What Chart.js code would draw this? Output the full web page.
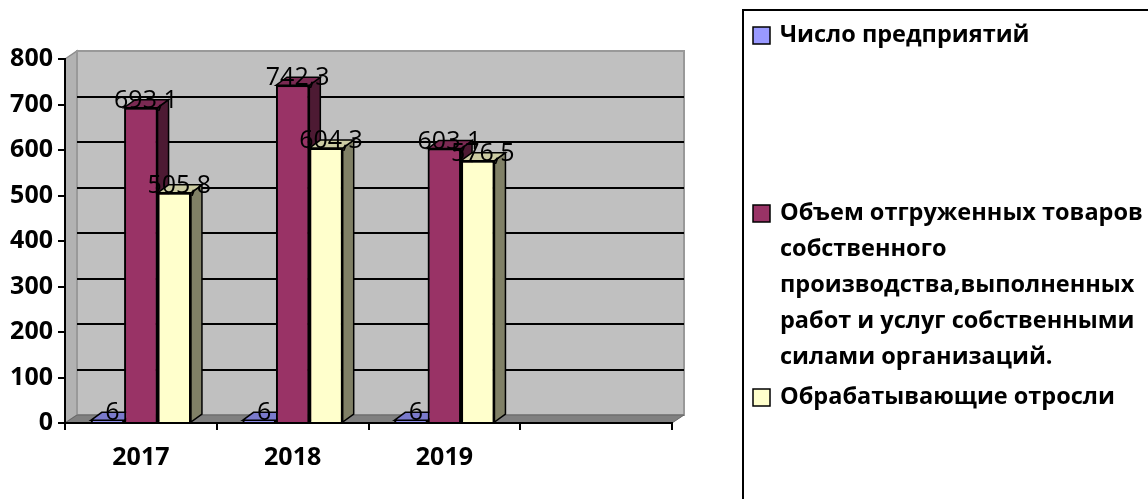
<!DOCTYPE html>
<html>
<head>
<meta charset="utf-8">
<script src="https://cdn.jsdelivr.net/npm/chart.js@4/dist/chart.umd.min.js"></script>
<style>
  html, body { margin: 0; padding: 0; background: #fff; }
  #wrap { width: 1148px; height: 499px; }
</style>
</head>
<body>
<div id="wrap"><canvas id="chart"></canvas></div>
<script>
// data
const years = ['2017', '2018', '2019', ''];
const enterprises = [6, 6, 6, null];
const shipped = [693.1, 742.3, 603.1, null];
const processing = [505.8, 604.3, 576.5, null];
const seriesLabels = [
  ['Число предприятий'],
  ['Объем отгруженных товаров', 'собственного', 'производства,выполненных', 'работ и услуг собственными', 'силами организаций.'],
  ['Обрабатывающие отросли']
];
const yMax = 800, yStep = 100;

const FONT = '"Open Sans", "Noto Sans", sans-serif';
const colors = ['#9999FF', '#993366', '#FFFFCC'];
const sideColors = ['#4d4d80', '#4d1a33', '#808066'];
const topColors = ['#7a7acc', '#7a2952', '#cccca3'];

// wall depth and bar depth
const DX = 12, DY = -8;
const BX = 11, BY = -8;

function poly(ctx, pts, fill, stroke, lw) {
  ctx.beginPath();
  ctx.moveTo(pts[0][0], pts[0][1]);
  for (let i = 1; i < pts.length; i++) ctx.lineTo(pts[i][0], pts[i][1]);
  ctx.closePath();
  if (fill) { ctx.fillStyle = fill; ctx.fill(); }
  if (stroke) { ctx.strokeStyle = stroke; ctx.lineWidth = lw || 1; ctx.stroke(); }
}

// back wall, side wall, floor and gridlines
const walls = {
  id: 'walls',
  beforeDraw(chart) {
    const { ctx, chartArea: a, scales: { y } } = chart;
    ctx.save();
    // side wall
    poly(ctx, [[a.left, a.top], [a.left + DX, a.top + DY], [a.left + DX, a.bottom + DY], [a.left, a.bottom]], '#b2b2b2', '#8c8c8c', 1.5);
    // back wall
    poly(ctx, [[a.left + DX, a.top + DY], [a.right + DX, a.top + DY], [a.right + DX, a.bottom + DY], [a.left + DX, a.bottom + DY]], '#c0c0c0', '#999999', 2);
    // floor
    poly(ctx, [[a.left, a.bottom], [a.left + DX, a.bottom + DY], [a.right + DX, a.bottom + DY], [a.right, a.bottom]], '#808080', '#666666', 1);
    // gridlines
    ctx.strokeStyle = '#000';
    ctx.lineWidth = 2;
    y.ticks.forEach(t => {
      if (t.value <= y.min || t.value >= y.max) return;
      const py = Math.round(y.getPixelForValue(t.value) + DY);
      ctx.beginPath();
      ctx.moveTo(a.left + DX, py);
      ctx.lineTo(a.right + DX, py);
      ctx.stroke();
    });
    ctx.restore();
  }
};

// bar depth faces, then value labels
const bars3d = {
  id: 'bars3d',
  afterDatasetsDraw(chart) {
    const ctx = chart.ctx;
    const metas = chart.data.datasets.map((d, i) => chart.getDatasetMeta(i));
    ctx.save();
    for (let j = 0; j < years.length; j++) {
      metas.forEach((meta, i) => {
        const bar = meta.data[j];
        if (!bar || chart.data.datasets[i].data[j] == null) return;
        const { x, y, base, width } = bar.getProps(['x', 'y', 'base', 'width'], true);
        const l = x - width / 2, r = x + width / 2;
        poly(ctx, [[r, y], [r + BX, y + BY], [r + BX, base + BY], [r, base]], sideColors[i], '#000', 1.5);
        poly(ctx, [[l, y], [l + BX, y + BY], [r + BX, y + BY], [r, y]], topColors[i], '#000', 1.5);
        bar.draw(ctx);
      });
    }
    ctx.font = '25px ' + FONT;
    ctx.fillStyle = '#000';
    ctx.textAlign = 'center';
    ctx.textBaseline = 'middle';
    metas.forEach(meta => {
      meta.data.forEach((bar, j) => {
        const v = chart.data.datasets[meta.index].data[j];
        if (v == null) return;
        ctx.fillText(String(v).replace('.', ','), bar.x + 5, bar.y - 7);
      });
    });
    ctx.restore();
  }
};

// Excel-style legend box on the right
const sideLegend = {
  id: 'sideLegend',
  afterDraw(chart) {
    const ctx = chart.ctx;
    const rows = [35, 213, 397];
    ctx.save();
    ctx.strokeStyle = '#000';
    ctx.lineWidth = 2;
    ctx.strokeRect(743, 10, 430, 520);
    ctx.font = 'bold 23.5px ' + FONT;
    ctx.textAlign = 'left';
    ctx.textBaseline = 'middle';
    chart.data.datasets.forEach((ds, i) => {
      const y0 = rows[i];
      ctx.fillStyle = colors[i];
      ctx.fillRect(753, y0 - 8, 17, 17);
      ctx.lineWidth = 1.5;
      ctx.strokeRect(753, y0 - 8, 17, 17);
      ctx.fillStyle = '#000';
      seriesLabels[i].forEach((line, k) => ctx.fillText(line, 780, y0 + k * 36));
    });
    ctx.restore();
  }
};

new Chart(document.getElementById('chart'), {
  type: 'bar',
  data: {
    labels: years,
    datasets: [
      { label: seriesLabels[0].join(' '), data: enterprises, backgroundColor: colors[0] },
      { label: seriesLabels[1].join(' '), data: shipped, backgroundColor: colors[1] },
      { label: seriesLabels[2].join(' '), data: processing, backgroundColor: colors[2] }
    ]
  },
  options: {
    responsive: true,
    maintainAspectRatio: false,
    animation: false,
    layout: { padding: { top: 59, right: 476, left: 0, bottom: 0 } },
    datasets: {
      bar: { borderColor: '#000', borderWidth: 2, categoryPercentage: 0.66, barPercentage: 1 }
    },
    plugins: {
      legend: { display: false },
      tooltip: { enabled: false }
    },
    scales: {
      x: {
        afterFit: s => { s.height = 76; },
        grid: { drawOnChartArea: false, color: '#000', lineWidth: 2, tickLength: 7, offset: true },
        border: { color: '#000', width: 2 },
        ticks: { color: '#000', padding: 13, font: { family: FONT, size: 25, weight: 'bold' } }
      },
      y: {
        min: 0,
        max: yMax,
        afterFit: s => { s.width = 65; },
        grid: { drawOnChartArea: false, color: '#000', lineWidth: 2, tickLength: 7 },
        border: { color: '#000', width: 2 },
        ticks: { stepSize: yStep, color: '#000', padding: 5, font: { family: FONT, size: 25, weight: 'bold' } }
      }
    }
  },
  plugins: [walls, bars3d, sideLegend]
});
</script>
</body>
</html>
